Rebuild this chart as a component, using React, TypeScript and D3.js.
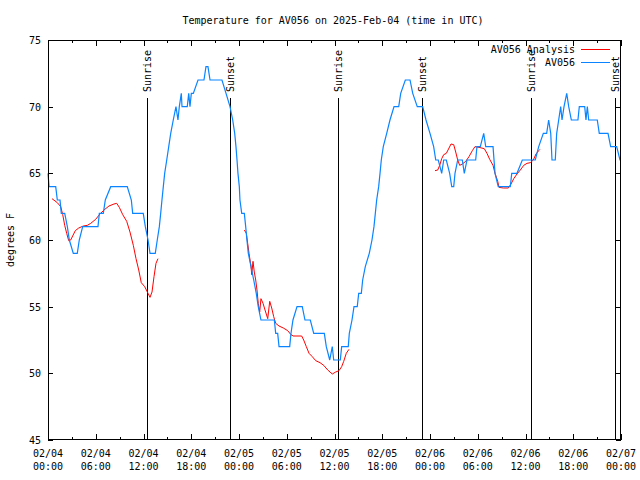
import React from "react";
import * as d3 from "d3";

// Hours since 2025-02-04 00:00 UTC
const obsHours = [0,0.13,0.97,1.17,1.51,1.67,2.10,2.43,2.68,3.18,3.68,3.93,4.36,6.28,6.45,6.95,7.20,7.88,9.96,10.47,10.64,11.97,12.23,12.57,12.82,13.48,13.73,13.99,14.16,14.32,14.49,14.66,14.92,15.17,15.42,15.74,16.08,16.33,16.50,16.75,16.84,17.00,17.50,17.68,17.84,18.01,18.26,18.85,19.60,19.85,20.10,20.36,21.86,22.37,22.87,23.21,23.46,23.62,23.75,23.87,24.04,24.12,24.34,24.67,24.84,25.00,25.17,25.51,25.85,26.17,26.42,26.76,28.44,28.61,28.86,29.03,30.37,30.53,30.78,31.29,31.95,32.29,32.96,33.39,34.72,34.97,35.40,35.72,35.90,36.73,36.90,37.73,37.86,38.20,38.45,38.86,39.04,39.37,39.54,39.87,40.37,40.71,40.96,41.13,41.30,41.55,41.72,41.88,42.13,42.56,42.97,43.48,44.07,44.32,44.90,45.49,45.83,46.40,47.08,47.50,48.00,48.46,48.72,49.04,49.47,49.72,50.05,50.47,50.73,50.98,51.14,51.48,52.06,52.31,52.65,53.74,53.90,54.32,54.75,55.00,55.92,56.17,56.58,58.09,58.27,58.93,59.60,61.23,61.66,62.24,62.66,62.91,63.17,63.33,63.74,63.92,64.17,64.42,64.59,64.84,65.18,65.43,65.76,66.59,66.76,67.44,67.60,67.77,67.94,69.02,69.27,70.37,70.70,71.46,71.87,72.00];
const obsTemps = [65,64,64,63,63,62,62,61,60,59,59,60,61,61,62,62,63,64,64,63,62,62,61,60,59,59,60,61,62,63,64,65,66,67,68,69,70,69,70,71,70,70,70,71,70,71,71,72,72,73,73,72,72,71,70,69,68,67,66,65,64,63,62,62,61,60,59,58,57,56,55,54,54,53,53,52,52,53,54,55,55,54,54,53,53,52,51,52,51,51,52,52,53,54,55,55,56,56,57,58,59,60,61,62,63,64,65,66,67,68,69,70,70,71,72,72,71,70,70,69,68,67,66,66,65,66,66,65,64,64,65,66,66,65,66,66,67,67,68,67,67,65,64,64,65,65,66,66,67,68,68,69,68,66,66,68,69,70,69,70,71,70,69,69,70,70,69,70,69,69,68,68,67,67,66,66];

// Analysis series; null marks a gap between segments
const analysisHours = [0.50,1.17,1.60,1.85,2.10,2.35,2.60,2.85,3.10,3.43,3.86,4.44,4.94,5.37,5.99,6.53,7.04,7.66,8.29,8.63,8.96,9.39,9.89,10.30,10.72,11.06,11.40,11.72,12.15,12.57,12.82,13.07,13.32,13.57,13.82,
  null,
  24.67,24.92,25.09,25.26,25.51,25.60,25.76,25.92,26.10,26.26,26.42,26.60,26.76,27.02,27.27,27.61,27.86,28.11,28.36,28.61,29.03,29.57,30.12,30.53,30.82,31.88,32.13,32.46,32.80,33.21,33.64,34.18,34.64,35.15,35.72,36.15,36.57,36.90,37.16,37.48,37.82,
  null,
  48.63,48.97,49.22,49.47,49.72,50.05,50.39,50.64,50.98,51.23,51.48,51.73,52.06,52.49,52.90,53.32,53.65,54.16,54.82,55.16,55.50,55.92,56.17,56.51,56.67,57.21,57.84,58.18,58.52,58.93,59.35,59.78,60.19,60.60,60.98,61.32,61.66,61.82];
const analysisTemps = [63.1,62.8,62.5,61.9,61.1,60.5,59.95,60.0,60.3,60.7,60.9,61.05,61.1,61.25,61.55,61.95,62.25,62.55,62.7,62.75,62.45,61.9,61.4,60.6,59.6,58.6,57.75,56.8,56.5,56.0,55.7,56.1,57.25,58.25,58.6,
  null,
  60.75,60.5,59.75,59.0,58.0,57.4,58.4,57.6,57.0,56.25,55.25,54.6,55.6,55.25,54.75,54.1,55.4,54.9,54.25,53.75,53.55,53.4,53.2,52.9,52.8,52.8,52.5,52.0,51.5,51.25,50.95,50.8,50.6,50.25,49.95,50.1,50.2,50.5,50.9,51.5,51.8,
  null,
  65.2,65.25,65.6,66.1,66.4,66.5,66.9,67.2,67.15,66.6,66.0,65.6,65.7,65.9,66.25,66.7,67.0,66.95,66.85,66.5,66.05,65.6,65.0,64.4,63.95,63.9,63.9,64.2,64.6,64.95,65.25,65.6,65.75,65.8,66.0,66.45,66.7,66.8];

const sunHours = [12.50, 22.91, 36.48, 47.03, 60.63, 71.25];
const sunLabels = ["Sunrise", "Sunset", "Sunrise", "Sunset", "Sunrise", "Sunset"];

const xTickHours = [0, 6, 12, 18, 24, 30, 36, 42, 48, 54, 60, 66, 72];
const xTickDates = ["02/04","02/04","02/04","02/04","02/05","02/05","02/05","02/05","02/06","02/06","02/06","02/06","02/07"];
const xTickTimes = ["00:00","06:00","12:00","18:00","00:00","06:00","12:00","18:00","00:00","06:00","12:00","18:00","00:00"];
const yTicks = [45, 50, 55, 60, 65, 70, 75];

const title = "Temperature for AV056 on 2025-Feb-04 (time in UTC)";
const yLabel = "degrees F";
const seriesNames = ["AV056 Analysis", "AV056"];
const seriesColors = ["#ff0000", "#0a84ff"];

export default function App() {
  const W = 640, H = 480;
  const L = 48, R = 621, T = 40, B = 440;
  const x = d3.scaleLinear().domain([0, 72]).range([L, R]);
  const y = d3.scaleLinear().domain([45, 75]).range([B, T]);
  const font = "'DejaVu Sans Mono', monospace";

  const obsLine = d3.line<number>()
    .x((_, i) => x(obsHours[i]))
    .y((_, i) => y(obsTemps[i]))(obsTemps as any) || "";

  const anaIdx = analysisHours.map((_, i) => i);
  const anaLine = d3.line<number>()
    .defined((i) => analysisHours[i] !== null && analysisTemps[i] !== null)
    .x((i) => x(analysisHours[i] as number))
    .y((i) => y(analysisTemps[i] as number))(anaIdx) || "";

  const px = (v: number) => Math.round(v) + 0.5;
  const minorHours = d3.range(0, 73, 3).filter((h) => h % 6 !== 0);

  return (
    <svg width={W} height={H} style={{ position: "absolute", left: 0, top: 0, background: "#fff" }}
      fontFamily={font} fontSize={10}>
      <rect x={0} y={0} width={W} height={H} fill="#fff" />
      <text x={333} y={24} textAnchor="middle" fill="#000">{title}</text>

      {/* ticks */}
      {xTickHours.map((h) => (
        <g key={"xt" + h}>
          <line x1={px(x(h))} x2={px(x(h))} y1={B} y2={B - 6} stroke="#000" />
          <line x1={px(x(h))} x2={px(x(h))} y1={T} y2={T + 6} stroke="#000" />
        </g>
      ))}
      {minorHours.map((h) => (
        <g key={"xm" + h}>
          <line x1={px(x(h))} x2={px(x(h))} y1={B} y2={B - 3} stroke="#000" />
          <line x1={px(x(h))} x2={px(x(h))} y1={T} y2={T + 3} stroke="#000" />
        </g>
      ))}
      {yTicks.map((t) => (
        <g key={"yt" + t}>
          <line x1={L} x2={L + 5} y1={px(y(t))} y2={px(y(t))} stroke="#000" />
          <line x1={R - 5} x2={R} y1={px(y(t))} y2={px(y(t))} stroke="#000" />
          <text x={41} y={y(t) + 4} textAnchor="end" fill="#000">{t}</text>
        </g>
      ))}
      {xTickHours.map((h, i) => (
        <g key={"xl" + h}>
          <text x={x(h)} y={457} textAnchor="middle" fill="#000">{xTickDates[i]}</text>
          <text x={x(h)} y={470} textAnchor="middle" fill="#000">{xTickTimes[i]}</text>
        </g>
      ))}
      <text transform={`translate(14,${(T + B) / 2}) rotate(-90)`} textAnchor="middle" fill="#000">{yLabel}</text>

      {/* sunrise / sunset */}
      {sunHours.map((h, i) => (
        <g key={"sun" + i}>
          <line x1={px(x(h))} x2={px(x(h))} y1={98} y2={B} stroke="#000" />
          <text transform={`translate(${px(x(h))},92) rotate(-90)`} dy="0.35em" textAnchor="start" fill="#000">{sunLabels[i]}</text>
        </g>
      ))}

      {/* series */}
      <path d={anaLine} fill="none" stroke={seriesColors[0]} strokeWidth={1} />
      <path d={obsLine} fill="none" stroke={seriesColors[1]} strokeWidth={1.2} />

      {/* legend */}
      <text x={575} y={53} textAnchor="end" fill="#000">{seriesNames[0]}</text>
      <line x1={581} x2={610} y1={49.5} y2={49.5} stroke={seriesColors[0]} />
      <text x={575} y={66} textAnchor="end" fill="#000">{seriesNames[1]}</text>
      <line x1={581} x2={610} y1={62.5} y2={62.5} stroke={seriesColors[1]} />

      <rect x={L + 0.5} y={T + 0.5} width={R - L - 1} height={B - T - 1} fill="none" stroke="#000" />
    </svg>
  );
}
